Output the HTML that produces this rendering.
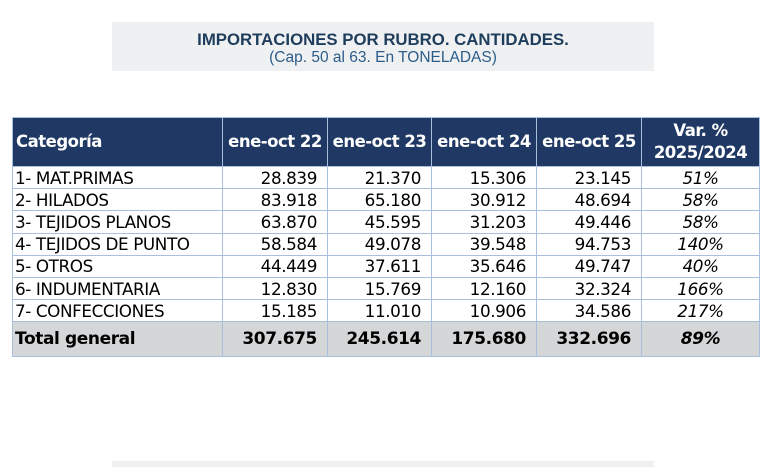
<!DOCTYPE html>
<html><head><meta charset="utf-8"><style>
body{margin:0;width:768px;height:467px;background:#fff;position:relative;overflow:hidden;font-family:"DejaVu Sans","Liberation Sans",sans-serif}
.tb{position:absolute;left:112px;top:22px;width:542px;height:49px;background:#eff0f1;text-align:center;font-family:"Liberation Sans",sans-serif}
.t1{font-weight:bold;font-size:16.8px;color:#1e3d5c;margin-top:9px;line-height:18px}
.t2{font-size:15.5px;color:#2b5d8a;line-height:17px}
.bb{position:absolute;left:112px;top:461px;width:542px;height:6px;background:#eff0f1}
table{position:absolute;left:12px;top:117px;border-collapse:collapse;font-size:16.8px;letter-spacing:-0.4px;table-layout:fixed;width:747px}
td,th{border:1px solid #a9c0dc;padding:0 3px;white-space:nowrap;overflow:hidden}
th{background:#1f3864;color:#fff;font-weight:bold;height:48px;font-size:16.5px;letter-spacing:-0.5px;line-height:22px}
th.c{text-align:left}
td{height:21.2px;line-height:20px;text-align:right;padding-right:10px}
td.c{text-align:left;padding-left:2px}
td.p{text-align:center;font-style:italic;padding-right:3px}
tr.tot td{background:#d5d6d8;font-weight:bold;height:34px;font-size:17px}
</style></head><body>
<div class="tb"><div class="t1">IMPORTACIONES POR RUBRO. CANTIDADES.</div><div class="t2">(Cap. 50 al 63. En TONELADAS)</div></div>
<table>
<colgroup><col style="width:210px"><col style="width:105px"><col style="width:104px"><col style="width:105px"><col style="width:105px"><col style="width:118px"></colgroup>
<tr><th class="c">Categoría</th><th>ene-oct 22</th><th>ene-oct 23</th><th>ene-oct 24</th><th>ene-oct 25</th><th>Var. %<br>2025/2024</th></tr>
<tr><td class="c">1- MAT.PRIMAS</td><td>28.839</td><td>21.370</td><td>15.306</td><td>23.145</td><td class="p">51%</td></tr>
<tr><td class="c">2- HILADOS</td><td>83.918</td><td>65.180</td><td>30.912</td><td>48.694</td><td class="p">58%</td></tr>
<tr><td class="c">3- TEJIDOS PLANOS</td><td>63.870</td><td>45.595</td><td>31.203</td><td>49.446</td><td class="p">58%</td></tr>
<tr><td class="c">4- TEJIDOS DE PUNTO</td><td>58.584</td><td>49.078</td><td>39.548</td><td>94.753</td><td class="p">140%</td></tr>
<tr><td class="c">5- OTROS</td><td>44.449</td><td>37.611</td><td>35.646</td><td>49.747</td><td class="p">40%</td></tr>
<tr><td class="c">6- INDUMENTARIA</td><td>12.830</td><td>15.769</td><td>12.160</td><td>32.324</td><td class="p">166%</td></tr>
<tr><td class="c">7- CONFECCIONES</td><td>15.185</td><td>11.010</td><td>10.906</td><td>34.586</td><td class="p">217%</td></tr>
<tr class="tot"><td class="c">Total general</td><td>307.675</td><td>245.614</td><td>175.680</td><td>332.696</td><td class="p">89%</td></tr>
</table>
<div class="bb"></div>
</body></html>
